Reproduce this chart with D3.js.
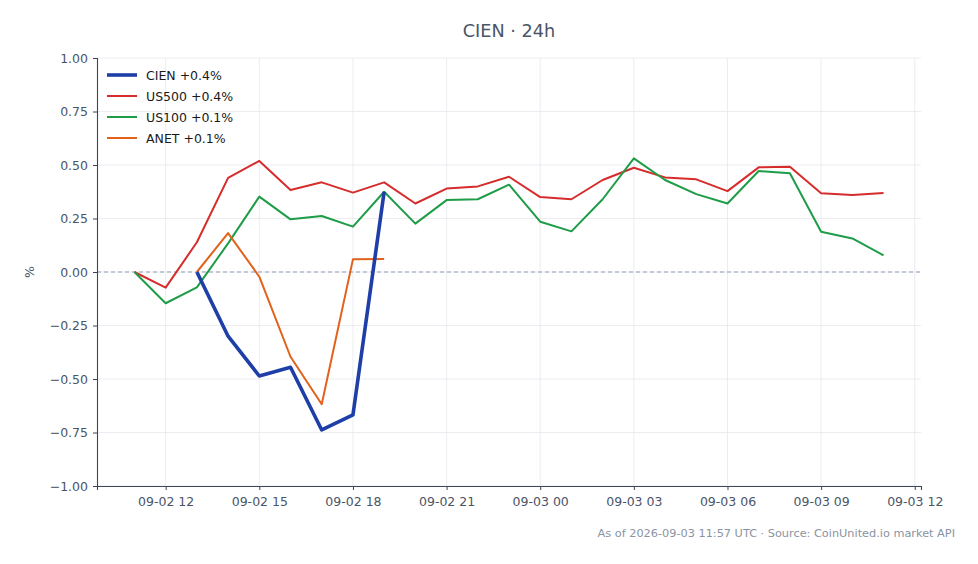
<!DOCTYPE html>
<html lang="en">
<head>
<meta charset="UTF-8">
<title>CIEN 24h</title>
<script src="https://d3js.org/d3.v7.min.js"></script>
<style>
  body { margin: 0; background: #fff; }
  text { font-family: "DejaVu Sans", sans-serif; }
</style>
</head>
<body>
<svg width="978" height="564"></svg>
<script>
// hourly samples, UTC
var times = ["2026-09-02T11:00Z","2026-09-02T12:00Z","2026-09-02T13:00Z","2026-09-02T14:00Z",
  "2026-09-02T15:00Z","2026-09-02T16:00Z","2026-09-02T17:00Z","2026-09-02T18:00Z",
  "2026-09-02T19:00Z","2026-09-02T20:00Z","2026-09-02T21:00Z","2026-09-02T22:00Z",
  "2026-09-02T23:00Z","2026-09-03T00:00Z","2026-09-03T01:00Z","2026-09-03T02:00Z",
  "2026-09-03T03:00Z","2026-09-03T04:00Z","2026-09-03T05:00Z","2026-09-03T06:00Z",
  "2026-09-03T07:00Z","2026-09-03T08:00Z","2026-09-03T09:00Z","2026-09-03T10:00Z",
  "2026-09-03T11:00Z"];

var cien  = [null, null, 0.00, -0.30, -0.486, -0.445, -0.738, -0.668, 0.375,
             null, null, null, null, null, null, null, null, null, null, null, null, null, null, null, null];
var us500 = [0.00, -0.073, 0.139, 0.44, 0.519, 0.383, 0.419, 0.371, 0.419, 0.32, 0.39, 0.40, 0.445,
             0.35, 0.34, 0.43, 0.487, 0.442, 0.433, 0.378, 0.489, 0.492, 0.368, 0.36, 0.369];
var us100 = [0.00, -0.146, -0.072, 0.134, 0.352, 0.246, 0.262, 0.212, 0.375, 0.226, 0.336, 0.34, 0.408,
             0.235, 0.19, 0.34, 0.531, 0.43, 0.364, 0.32, 0.472, 0.461, 0.188, 0.157, 0.078];
var anet  = [null, null, 0.00, 0.182, -0.022, -0.396, -0.618, 0.059, 0.061,
             null, null, null, null, null, null, null, null, null, null, null, null, null, null, null, null];

var seriesNames = ["CIEN +0.4%", "US500 +0.4%", "US100 +0.1%", "ANET +0.1%"];
var yTicks = [-1, -0.75, -0.5, -0.25, 0, 0.25, 0.5, 0.75, 1];

var svg = d3.select("svg"),
    margin = {top: 58, right: 57, bottom: 78, left: 97},
    width = +svg.attr("width") - margin.left - margin.right,
    height = +svg.attr("height") - margin.top - margin.bottom,
    g = svg.append("g").attr("transform", "translate(" + margin.left + "," + margin.top + ")");

var dates = times.map(function(t) { return new Date(t); });
var t0 = dates[0], t1 = dates[dates.length - 1], pad = (t1 - t0) * 0.05;

var x = d3.scaleUtc().domain([new Date(+t0 - pad), new Date(+t1 + pad)]).range([0, width]),
    y = d3.scaleLinear().domain([-1, 1]).range([height, 0]);

var xTicks = d3.utcHour.every(3).range(new Date("2026-09-02T12:00Z"), new Date("2026-09-03T12:01Z"));

// grid
g.append("g").selectAll("line").data(yTicks).enter().append("line")
  .attr("x1", 0).attr("x2", width)
  .attr("y1", function(d) { return y(d); }).attr("y2", function(d) { return y(d); })
  .attr("stroke", "#e6e9ee").attr("stroke-width", 0.8);
g.append("g").selectAll("line").data(xTicks).enter().append("line")
  .attr("y1", 0).attr("y2", height)
  .attr("x1", function(d) { return x(d); }).attr("x2", function(d) { return x(d); })
  .attr("stroke", "#e6e9ee").attr("stroke-width", 0.8);

// zero line
g.append("line")
  .attr("x1", 0).attr("x2", width).attr("y1", y(0)).attr("y2", y(0))
  .attr("stroke", "#8e9bb3").attr("stroke-width", 1).attr("stroke-dasharray", "4,3");

// axes
var xAxis = g.append("g").attr("transform", "translate(0," + height + ")")
  .call(d3.axisBottom(x).tickValues(xTicks).tickFormat(d3.utcFormat("%m-%d %H")).tickSize(4).tickPadding(7));
var yAxis = g.append("g")
  .call(d3.axisLeft(y).tickValues(yTicks).tickFormat(d3.format(".2f")).tickSize(4).tickPadding(5));
[xAxis, yAxis].forEach(function(a) {
  a.select(".domain").attr("stroke", "#3b4658").attr("stroke-width", 1.1);
  a.selectAll(".tick line").attr("stroke", "#3b4658");
  a.selectAll(".tick text").attr("fill", "#4a5568").style("font-size", "12.5px")
    .style("font-family", "DejaVu Sans, sans-serif");
});

// lines
var series = [
  {vals: cien,  color: "#1f3fa8", w: 3.6},
  {vals: us500, color: "#d62c2c", w: 2},
  {vals: us100, color: "#1e9c48", w: 2},
  {vals: anet,  color: "#e2611b", w: 2}
];
var line = d3.line()
  .defined(function(d) { return d[1] != null; })
  .x(function(d) { return x(d[0]); })
  .y(function(d) { return y(d[1]); });

// draw order: comparison lines first, CIEN on top
[1, 2, 3, 0].forEach(function(i) {
  var s = series[i];
  g.append("path")
    .datum(dates.map(function(d, k) { return [d, s.vals[k]]; }))
    .attr("fill", "none").attr("stroke", s.color).attr("stroke-width", s.w)
    .attr("stroke-linejoin", "round").attr("d", line);
});

// legend
var lg = g.append("g").attr("transform", "translate(10,17)");
seriesNames.forEach(function(name, i) {
  var row = lg.append("g").attr("transform", "translate(0," + (i * 21) + ")");
  row.append("line").attr("x1", 0).attr("x2", 30).attr("y1", 0).attr("y2", 0)
    .attr("stroke", series[i].color).attr("stroke-width", series[i].w);
  row.append("text").attr("x", 39).attr("y", 4.5).text(name)
    .style("font-size", "12.5px").attr("fill", "#1a1a1a");
});

// title, y label, footer
svg.append("text").attr("x", 509).attr("y", 37).attr("text-anchor", "middle")
  .style("font-size", "17.7px").attr("fill", "#4a5568").text("CIEN · 24h");
svg.append("text").attr("transform", "translate(34," + (margin.top + height / 2) + ") rotate(-90)")
  .attr("text-anchor", "middle").style("font-size", "12.5px").attr("fill", "#4a5568").text("%");
svg.append("text").attr("x", 955).attr("y", 537).attr("text-anchor", "end")
  .style("font-size", "11.3px").attr("fill", "#8a93a3")
  .text("As of 2026-09-03 11:57 UTC · Source: CoinUnited.io market API");
</script>
</body>
</html>
